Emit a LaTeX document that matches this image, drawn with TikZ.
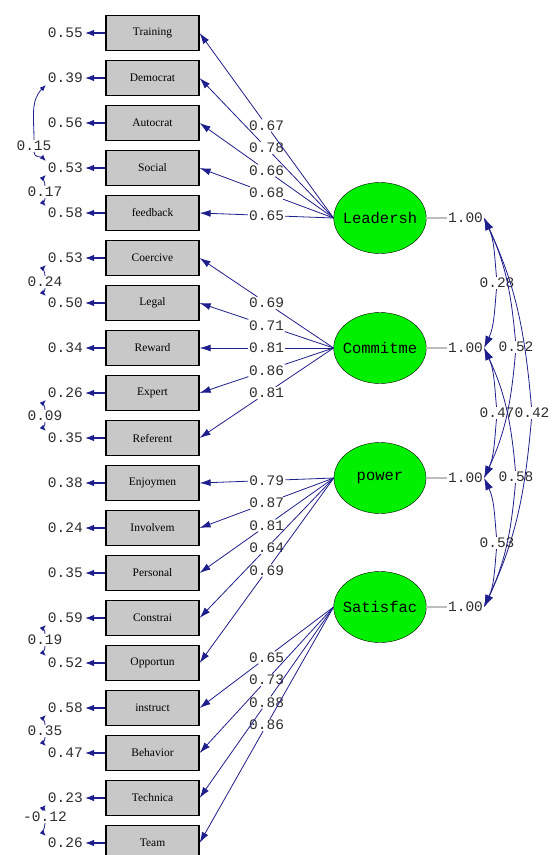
\documentclass[tikz,border=0pt]{standalone}
\usepackage{fontspec}
\setmainfont{Liberation Serif}
\newfontfamily\lismono{Liberation Mono}
\usetikzlibrary{shapes.geometric,arrows.meta,calc}
\definecolor{lisblue}{RGB}{30,30,140}
\definecolor{boxgray}{RGB}{200,200,200}
\definecolor{latgreen}{RGB}{0,240,0}
\definecolor{numgray}{RGB}{45,45,45}
\definecolor{stubgray}{RGB}{190,190,190}
\tikzstyle{obs}=[draw, line width=1.2pt, fill=boxgray, minimum width=93pt, minimum height=35pt, inner sep=0pt, font=\fontsize{11.5}{12}\selectfont]
\tikzstyle{latent}=[ellipse, draw, fill=latgreen, minimum width=92pt, minimum height=71pt, inner xsep=-4.5pt, inner ysep=0pt, font=\lismono\fontsize{15.5}{16}\selectfont]
\tikzstyle{num}=[inner sep=1pt, text=numgray, font=\lismono\fontsize{14.5}{15}\selectfont]
\tikzstyle{errnum}=[num, anchor=east, inner sep=2pt]
\tikzstyle{loadline}=[lisblue, line width=0.8pt]
\tikzstyle{loadarrow}=[loadline, -{Latex[length=11pt,width=7pt]}]
\tikzstyle{errarrow}=[lisblue, line width=1.2pt, -{Latex[length=9pt,width=6.5pt]}]
\tikzstyle{corrarrow}=[lisblue, line width=0.8pt, -{Latex[length=12pt,width=8pt]}]
\tikzstyle{ecorrarrow}=[lisblue, line width=0.8pt, -{Latex[length=6pt,width=5pt]}]
\tikzstyle{stub}=[stubgray, line width=1.5pt]

\begin{document}
\begin{tikzpicture}[x=1pt, y=-1pt]
\useasboundingbox (0,0) rectangle (556,855);
% Observed variables
    \node[obs] (training) at (152.5,33) {Training};
    \node[obs] (democrat) at (152.5,78) {Democrat};
    \node[obs] (autocrat) at (152.5,123) {Autocrat};
    \node[obs] (social) at (152.5,168) {Social};
    \node[obs] (feedback) at (152.5,213) {feedback};
    \node[obs] (coercive) at (152.5,258) {Coercive};
    \node[obs] (legal) at (152.5,303) {Legal};
    \node[obs] (reward) at (152.5,348) {Reward};
    \node[obs] (expert) at (152.5,393) {Expert};
    \node[obs] (referent) at (152.5,438) {Referent};
    \node[obs] (enjoymen) at (152.5,483) {Enjoymen};
    \node[obs] (involvem) at (152.5,528) {Involvem};
    \node[obs] (personal) at (152.5,573) {Personal};
    \node[obs] (constrai) at (152.5,618) {Constrai};
    \node[obs] (opportun) at (152.5,663) {Opportun};
    \node[obs] (instruct) at (152.5,708) {instruct};
    \node[obs] (behavior) at (152.5,753) {Behavior};
    \node[obs] (technica) at (152.5,798) {Technica};
    \node[obs] (team) at (152.5,843) {Team};
% Latent variables
    \node[latent] (leadersh) at (380,218) {Leadersh};
    \node[latent] (commitme) at (380,348) {Commitme};
    \node[latent] (power) at (380,478) {power};
    \node[latent] (satisfac) at (380,607) {Satisfac};
% Error variances
    \node[errnum] (etraining) at (85,33) {0.55};
    \node[errnum] (edemocrat) at (85,78) {0.39};
    \node[errnum] (eautocrat) at (85,123) {0.56};
    \node[errnum] (esocial) at (85,168) {0.53};
    \node[errnum] (efeedback) at (85,213) {0.58};
    \node[errnum] (ecoercive) at (85,258) {0.53};
    \node[errnum] (elegal) at (85,303) {0.50};
    \node[errnum] (ereward) at (85,348) {0.34};
    \node[errnum] (eexpert) at (85,393) {0.26};
    \node[errnum] (ereferent) at (85,438) {0.35};
    \node[errnum] (eenjoymen) at (85,483) {0.38};
    \node[errnum] (einvolvem) at (85,528) {0.24};
    \node[errnum] (epersonal) at (85,573) {0.35};
    \node[errnum] (econstrai) at (85,618) {0.59};
    \node[errnum] (eopportun) at (85,663) {0.52};
    \node[errnum] (einstruct) at (85,708) {0.58};
    \node[errnum] (ebehavior) at (85,753) {0.47};
    \node[errnum] (etechnica) at (85,798) {0.23};
    \node[errnum] (eteam) at (85,843) {0.26};
    \draw[errarrow] (training) -- (etraining);
    \draw[errarrow] (democrat) -- (edemocrat);
    \draw[errarrow] (autocrat) -- (eautocrat);
    \draw[errarrow] (social) -- (esocial);
    \draw[errarrow] (feedback) -- (efeedback);
    \draw[errarrow] (coercive) -- (ecoercive);
    \draw[errarrow] (legal) -- (elegal);
    \draw[errarrow] (reward) -- (ereward);
    \draw[errarrow] (expert) -- (eexpert);
    \draw[errarrow] (referent) -- (ereferent);
    \draw[errarrow] (enjoymen) -- (eenjoymen);
    \draw[errarrow] (involvem) -- (einvolvem);
    \draw[errarrow] (personal) -- (epersonal);
    \draw[errarrow] (constrai) -- (econstrai);
    \draw[errarrow] (opportun) -- (eopportun);
    \draw[errarrow] (instruct) -- (einstruct);
    \draw[errarrow] (behavior) -- (ebehavior);
    \draw[errarrow] (technica) -- (etechnica);
    \draw[errarrow] (team) -- (eteam);
% Error covariances
    \node[num] (cdemsoc) at (34,146) {0.15};
    \draw[ecorrarrow] (cdemsoc) to[out=90,in=225] (edemocrat.south west);
    \draw[ecorrarrow] (cdemsoc) to[out=-90,in=135] (esocial.north west);
    \node[num] (csocfee) at (45,192) {0.17};
    \draw[ecorrarrow] (csocfee) to[out=90,in=225] (esocial.south west);
    \draw[ecorrarrow] (csocfee) to[out=-90,in=135] (efeedback.north west);
    \node[num] (ccoeleg) at (45,282) {0.24};
    \draw[ecorrarrow] (ccoeleg) to[out=90,in=225] (ecoercive.south west);
    \draw[ecorrarrow] (ccoeleg) to[out=-90,in=135] (elegal.north west);
    \node[num] (cexpref) at (45,416) {0.09};
    \draw[ecorrarrow] (cexpref) to[out=90,in=225] (eexpert.south west);
    \draw[ecorrarrow] (cexpref) to[out=-90,in=135] (ereferent.north west);
    \node[num] (cconopp) at (45,640) {0.19};
    \draw[ecorrarrow] (cconopp) to[out=90,in=225] (econstrai.south west);
    \draw[ecorrarrow] (cconopp) to[out=-90,in=135] (eopportun.north west);
    \node[num] (cinsbeh) at (45,731) {0.35};
    \draw[ecorrarrow] (cinsbeh) to[out=90,in=225] (einstruct.south west);
    \draw[ecorrarrow] (cinsbeh) to[out=-90,in=135] (ebehavior.north west);
    \node[num] (ctecteam) at (45,817) {-0.12};
    \draw[ecorrarrow] (ctecteam) to[out=90,in=225] (etechnica.south west);
    \draw[ecorrarrow] (ctecteam) to[out=-90,in=135] (eteam.north west);
% Loadings
    \node[num] (ltraining) at ($(leadersh.west)!.5!(training.east)$) {0.67};
    \node[num] (ldemocrat) at ($(leadersh.west)!.5!(democrat.east)$) {0.78};
    \node[num] (lautocrat) at ($(leadersh.west)!.5!(autocrat.east)$) {0.66};
    \node[num] (lsocial) at ($(leadersh.west)!.5!(social.east)$) {0.68};
    \node[num] (lfeedback) at ($(leadersh.west)!.5!(feedback.east)$) {0.65};
    \node[num] (lcoercive) at ($(commitme.west)!.5!(coercive.east)$) {0.69};
    \node[num] (llegal) at ($(commitme.west)!.5!(legal.east)$) {0.71};
    \node[num] (lreward) at ($(commitme.west)!.5!(reward.east)$) {0.81};
    \node[num] (lexpert) at ($(commitme.west)!.5!(expert.east)$) {0.86};
    \node[num] (lreferent) at ($(commitme.west)!.5!(referent.east)$) {0.81};
    \node[num] (lenjoymen) at ($(power.west)!.5!(enjoymen.east)$) {0.79};
    \node[num] (linvolvem) at ($(power.west)!.5!(involvem.east)$) {0.87};
    \node[num] (lpersonal) at ($(power.west)!.5!(personal.east)$) {0.81};
    \node[num] (lconstrai) at ($(power.west)!.5!(constrai.east)$) {0.64};
    \node[num] (lopportun) at ($(power.west)!.5!(opportun.east)$) {0.69};
    \node[num] (linstruct) at ($(satisfac.west)!.5!(instruct.east)$) {0.65};
    \node[num] (lbehavior) at ($(satisfac.west)!.5!(behavior.east)$) {0.73};
    \node[num] (ltechnica) at ($(satisfac.west)!.5!(technica.east)$) {0.88};
    \node[num] (lteam) at ($(satisfac.west)!.5!(team.east)$) {0.86};
    \draw[loadline] (leadersh.west) -- (ltraining);
    \draw[loadline] (leadersh.west) -- (ldemocrat);
    \draw[loadline] (leadersh.west) -- (lautocrat);
    \draw[loadline] (leadersh.west) -- (lsocial);
    \draw[loadline] (leadersh.west) -- (lfeedback);
    \draw[loadline] (commitme.west) -- (lcoercive);
    \draw[loadline] (commitme.west) -- (llegal);
    \draw[loadline] (commitme.west) -- (lreward);
    \draw[loadline] (commitme.west) -- (lexpert);
    \draw[loadline] (commitme.west) -- (lreferent);
    \draw[loadline] (power.west) -- (lenjoymen);
    \draw[loadline] (power.west) -- (linvolvem);
    \draw[loadline] (power.west) -- (lpersonal);
    \draw[loadline] (power.west) -- (lconstrai);
    \draw[loadline] (power.west) -- (lopportun);
    \draw[loadline] (satisfac.west) -- (linstruct);
    \draw[loadline] (satisfac.west) -- (lbehavior);
    \draw[loadline] (satisfac.west) -- (ltechnica);
    \draw[loadline] (satisfac.west) -- (lteam);
    \draw[loadarrow] (ltraining) -- (training.east);
    \draw[loadarrow] (ldemocrat) -- (democrat.east);
    \draw[loadarrow] (lautocrat) -- (autocrat.east);
    \draw[loadarrow] (lsocial) -- (social.east);
    \draw[loadarrow] (lfeedback) -- (feedback.east);
    \draw[loadarrow] (lcoercive) -- (coercive.east);
    \draw[loadarrow] (llegal) -- (legal.east);
    \draw[loadarrow] (lreward) -- (reward.east);
    \draw[loadarrow] (lexpert) -- (expert.east);
    \draw[loadarrow] (lreferent) -- (referent.east);
    \draw[loadarrow] (lenjoymen) -- (enjoymen.east);
    \draw[loadarrow] (linvolvem) -- (involvem.east);
    \draw[loadarrow] (lpersonal) -- (personal.east);
    \draw[loadarrow] (lconstrai) -- (constrai.east);
    \draw[loadarrow] (lopportun) -- (opportun.east);
    \draw[loadarrow] (linstruct) -- (instruct.east);
    \draw[loadarrow] (lbehavior) -- (behavior.east);
    \draw[loadarrow] (ltechnica) -- (technica.east);
    \draw[loadarrow] (lteam) -- (team.east);
% Latent variances
    \node[num] (vleadersh) at (465.5,218) {1.00};
    \node[num] (vcommitme) at (465.5,348) {1.00};
    \node[num] (vpower) at (465.5,478) {1.00};
    \node[num] (vsatisfac) at (465.5,607) {1.00};
    \draw[stub] (leadersh) -- (vleadersh);
    \draw[stub] (commitme) -- (vcommitme);
    \draw[stub] (power) -- (vpower);
    \draw[stub] (satisfac) -- (vsatisfac);
% Latent correlations
    \node[num] (clc) at (497,283) {0.28};
    \draw[corrarrow] (clc) to[out=95,in=-65] (vleadersh.east);
    \draw[corrarrow] (clc) to[out=-95,in=65] (vcommitme.east);
    \node[num] (clp) at (516,347) {0.52};
    \draw[corrarrow] (clp) to[out=95,in=-65] (vleadersh.east);
    \draw[corrarrow] (clp) to[out=-95,in=65] (vpower.east);
    \node[num] (cls) at (532,413) {0.42};
    \draw[corrarrow] (cls) to[out=95,in=-65] (vleadersh.east);
    \draw[corrarrow] (cls) to[out=-95,in=65] (vsatisfac.east);
    \node[num] (ccp) at (497,413) {0.47};
    \draw[corrarrow] (ccp) to[out=95,in=-65] (vcommitme.east);
    \draw[corrarrow] (ccp) to[out=-95,in=65] (vpower.east);
    \node[num] (ccs) at (516,477) {0.58};
    \draw[corrarrow] (ccs) to[out=95,in=-65] (vcommitme.east);
    \draw[corrarrow] (ccs) to[out=-95,in=65] (vsatisfac.east);
    \node[num] (cps) at (497,543) {0.53};
    \draw[corrarrow] (cps) to[out=95,in=-65] (vpower.east);
    \draw[corrarrow] (cps) to[out=-95,in=65] (vsatisfac.east);
\end{tikzpicture}
\end{document}
